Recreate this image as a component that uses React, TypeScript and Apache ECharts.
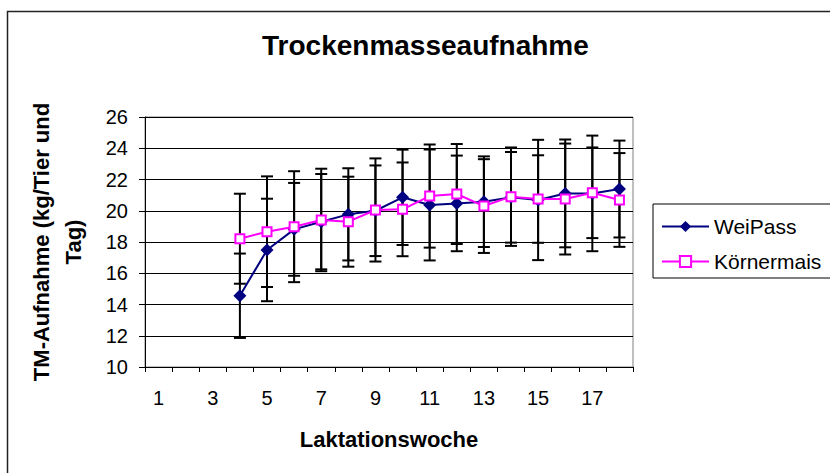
import React, { useEffect, useRef } from "react";
import * as echarts from "echarts";

const weeks = ["1", "2", "3", "4", "5", "6", "7", "8", "9", "10", "11", "12", "13", "14", "15", "16", "17", "18"];
const weiPass = [null, null, null, 14.56, 17.49, 18.81, 19.3, 19.77, 20.0, 20.86, 20.37, 20.47, 20.58, 20.86, 20.69, 21.11, 21.11, 21.39];
const weiPassSd = [null, null, null, 2.7, 3.28, 2.97, 3.05, 2.95, 2.9, 3.05, 3.55, 3.06, 2.9, 2.9, 3.85, 3.45, 3.7, 3.1];
const koernermais = [null, null, null, 18.21, 18.66, 18.98, 19.41, 19.3, 20.05, 20.09, 20.94, 21.07, 20.3, 20.9, 20.75, 20.75, 21.15, 20.69];
const koernerSd = [null, null, null, 2.88, 3.54, 3.55, 3.28, 2.88, 3.3, 3.0, 3.3, 3.2, 3.0, 3.15, 2.8, 3.55, 2.9, 3.0];
const yTicks = { min: 10, max: 26, interval: 2 };

const FONT = "'Liberation Sans', Arial, sans-serif";

function errData(vals: (number | null)[], sds: (number | null)[]) {
  const out: number[][] = [];
  vals.forEach((v, i) => {
    const s = sds[i];
    if (v != null && s != null) out.push([i, v - s, v + s]);
  });
  return out;
}

function renderErr(params: any, api: any) {
  const x = api.value(0);
  const lo = api.coord([x, api.value(1)]);
  const hi = api.coord([x, api.value(2)]);
  const cap = 6;
  const style = { stroke: "#000", lineWidth: 2 };
  return {
    type: "group",
    children: [
      { type: "line", shape: { x1: lo[0], y1: lo[1], x2: hi[0], y2: hi[1] }, style },
      { type: "line", shape: { x1: lo[0] - cap, y1: lo[1], x2: lo[0] + cap, y2: lo[1] }, style },
      { type: "line", shape: { x1: hi[0] - cap, y1: hi[1], x2: hi[0] + cap, y2: hi[1] }, style },
    ],
  };
}

export default function App() {
  const ref = useRef<HTMLDivElement>(null);
  useEffect(() => {
    if (!ref.current) return;
    const chart = echarts.init(ref.current, null, { renderer: "svg" });
    chart.setOption({
      animation: false,
      backgroundColor: "#fff",
      textStyle: { fontFamily: FONT },
      title: {
        text: "Trockenmasseaufnahme",
        left: 262,
        top: 31,
        padding: 0,
        textStyle: { fontFamily: FONT, fontSize: 28, fontWeight: "bold", color: "#000" },
      },
      graphic: [
        {
          type: "rect",
          shape: { x: 7.5, y: 11.5, width: 1000, height: 1000 },
          style: { fill: "none", stroke: "#222", lineWidth: 1.5 },
          silent: true,
          z: 100,
        },
      ],
      legend: {
        orient: "vertical",
        left: 653,
        top: 204,
        padding: [12, 20, 6, 8],
        itemGap: 14,
        itemWidth: 47,
        itemHeight: 14,
        borderColor: "#000",
        borderWidth: 1,
        textStyle: { fontFamily: FONT, fontSize: 21, color: "#000" },
        data: ["WeiPass", "Körnermais"],
      },
      grid: {
        left: 145,
        top: 117,
        width: 488,
        height: 250,
        show: true,
        borderColor: "#808080",
        borderWidth: 1,
        containLabel: false,
      },
      xAxis: {
        type: "category",
        data: weeks,
        boundaryGap: true,
        name: "Laktationswoche",
        nameLocation: "middle",
        nameGap: 61,
        nameTextStyle: { fontFamily: FONT, fontSize: 22, fontWeight: "bold", color: "#000" },
        axisLine: { show: true, lineStyle: { color: "#000", width: 1 } },
        axisTick: { show: true, interval: 0, length: 5, lineStyle: { color: "#000" } },
        axisLabel: { interval: 1, fontSize: 20, color: "#000", margin: 21, fontFamily: FONT },
        splitLine: { show: false },
      },
      yAxis: {
        type: "value",
        min: yTicks.min,
        max: yTicks.max,
        interval: yTicks.interval,
        name: "TM-Aufnahme (kg/Tier und\nTag)",
        nameLocation: "middle",
        nameGap: 56,
        nameTextStyle: { fontFamily: FONT, fontSize: 22, fontWeight: "bold", color: "#000", lineHeight: 32, align: "center" },
        axisLine: { show: true, lineStyle: { color: "#000", width: 1 } },
        axisTick: { show: true, length: 6, lineStyle: { color: "#000" } },
        axisLabel: { fontSize: 20, color: "#000", margin: 17, fontFamily: FONT },
        splitLine: { show: true, lineStyle: { color: "#000", width: 1 } },
      },
      series: [
        {
          type: "custom",
          name: "errW",
          renderItem: renderErr,
          data: errData(weiPass, weiPassSd),
          encode: { x: 0, y: [1, 2] },
          z: 1,
          silent: true,
        },
        {
          type: "custom",
          name: "errK",
          renderItem: renderErr,
          data: errData(koernermais, koernerSd),
          encode: { x: 0, y: [1, 2] },
          z: 1,
          silent: true,
        },
        {
          type: "line",
          name: "WeiPass",
          data: weiPass,
          symbol: "diamond",
          symbolSize: 13,
          showAllSymbol: true,
          connectNulls: false,
          lineStyle: { color: "#000080", width: 2 },
          itemStyle: { color: "#000080" },
          z: 3,
        },
        {
          type: "line",
          name: "Körnermais",
          data: koernermais,
          symbol: "rect",
          symbolSize: 9,
          showAllSymbol: true,
          lineStyle: { color: "#FF00FF", width: 2 },
          itemStyle: { color: "#fff", borderColor: "#FF00FF", borderWidth: 2 },
          z: 4,
        },
      ],
    });
    return () => chart.dispose();
  }, []);
  return (
    <div
      ref={ref}
      style={{ position: "fixed", left: 0, top: 0, width: 830, height: 473 }}
    />
  );
}
